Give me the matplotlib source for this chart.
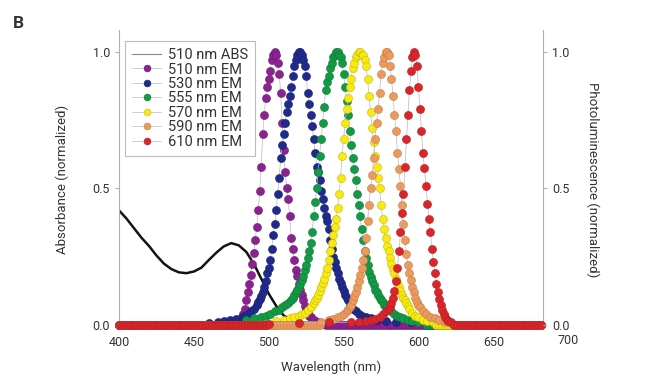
import matplotlib
matplotlib.use('Agg')
import matplotlib.pyplot as plt
import numpy as np

plt.rcParams['font.family'] = ['Roboto', 'DejaVu Sans']

# absorbance of the 510 nm sample
abs_wl = [400, 405, 410, 415, 420, 425, 430, 435, 440, 445, 450, 455, 460, 465, 470, 475,
          480, 485, 490, 495, 500, 505, 510, 515, 520, 530, 560, 683]
abs_val = [0.42, 0.39, 0.355, 0.32, 0.29, 0.255, 0.225, 0.205, 0.193, 0.19, 0.196, 0.21, 0.238,
           0.265, 0.288, 0.30, 0.292, 0.268, 0.225, 0.17, 0.115, 0.07, 0.035, 0.018, 0.01,
           0.005, 0.0, 0.0]

# emission spectra (peak regions), flat baseline elsewhere
em510_wl = [470, 475, 480, 481, 482, 483, 484, 485, 486, 487, 488, 489, 490, 491, 492, 493, 494,
            495, 496, 497, 498, 499, 500, 501, 502, 503, 504, 505, 506, 507, 508, 509, 510, 511,
            512, 513, 514, 515, 516, 517, 518, 519, 520, 521, 522, 523, 524, 525, 526, 527, 528,
            529, 530, 533, 536]
em510_val = [0.01, 0.012, 0.015, 0.02, 0.03, 0.04, 0.06, 0.09, 0.12, 0.15, 0.185, 0.225, 0.265,
             0.31, 0.36, 0.42, 0.49, 0.58, 0.70, 0.77, 0.83, 0.87, 0.90, 0.93, 0.97, 0.99, 1.0,
             0.99, 0.96, 0.92, 0.85, 0.74, 0.64, 0.56, 0.50, 0.46, 0.40, 0.32, 0.28, 0.24, 0.20,
             0.18, 0.15, 0.13, 0.11, 0.09, 0.07, 0.055, 0.045, 0.035, 0.028, 0.022, 0.017, 0.01,
             0.005]

em530_wl = [460, 466, 470, 474, 478, 482, 484, 486, 488, 490, 492, 493, 494, 495, 496, 497, 498,
            499, 500, 501, 502, 503, 504, 505, 506, 507, 508, 509, 510, 511, 512, 513, 514, 515,
            516, 517, 518, 519, 520, 521, 522, 523, 524, 525, 526, 527, 528, 529, 530, 531, 532,
            533, 534, 535, 536, 537, 538, 539, 540, 541, 542, 543, 544, 545, 546, 547, 548, 549,
            550, 551, 552, 553, 554, 555, 556, 558, 560, 562, 565, 568, 572, 578, 585, 595, 605]
em530_val = [0.008, 0.012, 0.015, 0.018, 0.022, 0.03, 0.035, 0.04, 0.05, 0.06, 0.075, 0.085,
             0.095, 0.105, 0.12, 0.14, 0.16, 0.19, 0.21, 0.24, 0.28, 0.33, 0.37, 0.42, 0.48,
             0.54, 0.61, 0.66, 0.70, 0.74, 0.78, 0.81, 0.84, 0.87, 0.91, 0.95, 0.97, 0.99, 1.0,
             1.0, 0.99, 0.97, 0.95, 0.91, 0.85, 0.81, 0.77, 0.73, 0.68, 0.63, 0.58, 0.56, 0.53,
             0.49, 0.46, 0.43, 0.40, 0.38, 0.35, 0.31, 0.28, 0.25, 0.23, 0.21, 0.19, 0.17, 0.155,
             0.14, 0.125, 0.11, 0.10, 0.09, 0.08, 0.07, 0.06, 0.05, 0.04, 0.035, 0.03, 0.025,
             0.02, 0.015, 0.012, 0.01, 0.008]

em555_wl = [485, 490, 495, 498, 501, 504, 507, 509, 511, 513, 515, 516, 517, 518, 519, 520, 521,
            522, 523, 524, 525, 526, 527, 528, 529, 530, 531, 532, 533, 534, 535, 536, 537, 538,
            539, 540, 541, 542, 543, 544, 545, 546, 547, 548, 549, 550, 551, 552, 553, 554, 555,
            556, 557, 558, 559, 560, 561, 562, 563, 564, 565, 566, 567, 568, 569, 570, 571, 572,
            573, 574, 575, 576, 577, 578, 579, 580, 582, 584, 586, 588, 590, 593, 596, 600, 605]
em555_val = [0.02, 0.025, 0.03, 0.035, 0.04, 0.05, 0.055, 0.065, 0.075, 0.08, 0.09, 0.10, 0.11,
             0.12, 0.13, 0.14, 0.15, 0.165, 0.18, 0.20, 0.22, 0.245, 0.27, 0.30, 0.34, 0.40,
             0.45, 0.50, 0.56, 0.62, 0.68, 0.74, 0.80, 0.86, 0.89, 0.91, 0.94, 0.96, 0.98, 0.99,
             1.0, 1.0, 0.99, 0.98, 0.96, 0.92, 0.87, 0.82, 0.77, 0.71, 0.66, 0.61, 0.57, 0.53,
             0.48, 0.44, 0.40, 0.35, 0.31, 0.27, 0.245, 0.22, 0.195, 0.175, 0.16, 0.145, 0.13,
             0.12, 0.11, 0.10, 0.09, 0.085, 0.075, 0.07, 0.065, 0.06, 0.05, 0.04, 0.035, 0.03,
             0.025, 0.02, 0.015, 0.01, 0.005]

em570_wl = [505, 510, 514, 517, 520, 522, 524, 526, 528, 530, 531, 532, 533, 534, 535, 536, 537,
            538, 539, 540, 541, 542, 543, 544, 545, 546, 547, 548, 549, 550, 551, 552, 553, 554,
            555, 556, 557, 558, 559, 560, 561, 562, 563, 564, 565, 566, 567, 568, 569, 570, 571,
            572, 573, 574, 575, 576, 577, 578, 579, 580, 581, 582, 583, 584, 585, 586, 587, 588,
            589, 590, 591, 592, 593, 594, 596, 598, 600, 603, 606, 610]
em570_val = [0.015, 0.02, 0.025, 0.03, 0.035, 0.04, 0.045, 0.055, 0.065, 0.08, 0.09, 0.10, 0.11,
             0.125, 0.14, 0.155, 0.17, 0.19, 0.21, 0.24, 0.27, 0.30, 0.33, 0.36, 0.39, 0.43,
             0.48, 0.54, 0.62, 0.68, 0.74, 0.79, 0.83, 0.87, 0.90, 0.94, 0.96, 0.98, 0.99, 1.0,
             1.0, 0.99, 0.99, 0.97, 0.95, 0.90, 0.84, 0.78, 0.72, 0.67, 0.62, 0.58, 0.54, 0.50,
             0.44, 0.39, 0.35, 0.32, 0.29, 0.27, 0.245, 0.225, 0.205, 0.19, 0.17, 0.155, 0.14,
             0.125, 0.11, 0.10, 0.09, 0.08, 0.07, 0.06, 0.045, 0.035, 0.03, 0.02, 0.015, 0.01]

em590_wl = [535, 540, 543, 546, 548, 550, 552, 553, 554, 555, 556, 557, 558, 559, 560, 561, 562,
            563, 564, 565, 566, 567, 568, 569, 570, 571, 572, 573, 574, 575, 576, 577, 578, 579,
            580, 581, 582, 583, 584, 585, 586, 587, 588, 589, 590, 591, 592, 593, 594, 595, 596,
            597, 598, 599, 600, 601, 603, 605, 608, 611, 614, 618, 622]
em590_val = [0.01, 0.018, 0.022, 0.028, 0.033, 0.04, 0.05, 0.058, 0.066, 0.075, 0.09, 0.105,
             0.12, 0.14, 0.16, 0.185, 0.21, 0.24, 0.27, 0.32, 0.38, 0.44, 0.50, 0.55, 0.61, 0.68,
             0.74, 0.79, 0.85, 0.92, 0.96, 0.98, 1.0, 1.0, 0.99, 0.95, 0.90, 0.84, 0.77, 0.71,
             0.63, 0.57, 0.51, 0.44, 0.37, 0.31, 0.26, 0.22, 0.19, 0.165, 0.14, 0.12, 0.10,
             0.085, 0.075, 0.065, 0.05, 0.042, 0.03, 0.025, 0.018, 0.012, 0.008]

em610_wl = [500, 520, 540, 555, 560, 565, 568, 571, 574, 576, 578, 580, 581, 582, 583, 584, 585,
            586, 587, 588, 589, 590, 591, 592, 593, 594, 595, 596, 597, 598, 599, 600, 601, 602,
            603, 604, 605, 606, 607, 608, 609, 610, 611, 612, 613, 614, 615, 616, 617, 618, 619,
            620, 622]
em610_val = [0.005, 0.008, 0.01, 0.01, 0.012, 0.015, 0.018, 0.022, 0.03, 0.04, 0.05, 0.06, 0.07,
             0.08, 0.10, 0.125, 0.16, 0.21, 0.27, 0.34, 0.41, 0.48, 0.58, 0.68, 0.77, 0.86, 0.93,
             0.98, 1.0, 0.99, 0.95, 0.87, 0.79, 0.71, 0.63, 0.575, 0.51, 0.445, 0.39, 0.34, 0.28,
             0.23, 0.19, 0.15, 0.12, 0.095, 0.075, 0.055, 0.04, 0.03, 0.02, 0.015, 0.01]

baseline_wl = np.arange(400, 684, 2)
baseline_val = 0.0

labels = ['510 nm EM', '530 nm EM', '555 nm EM', '570 nm EM', '590 nm EM', '610 nm EM']
face = ['#8a2390', '#1f2a8c', '#129a45', '#f7ea14', '#eb9a5e', '#d9262b']
edge = ['#6e1a73', '#18226e', '#0e7a36', '#c9b800', '#c97c45', '#b01d22']
series = [(em510_wl, em510_val), (em530_wl, em530_val), (em555_wl, em555_val),
          (em570_wl, em570_val), (em590_wl, em590_val), (em610_wl, em610_val)]

fig = plt.figure(figsize=(6.5, 3.85), dpi=100)
ax = fig.add_axes([0.183, 0.145, 0.652, 0.777])

ax.plot(abs_wl, abs_val, color='#1a1010', lw=1.8, label='510 nm ABS', zorder=2)

for (wl, val), lab, fc, ec in zip(series, labels, face, edge):
    wl = np.asarray(wl)
    val = np.asarray(val)
    outside = (baseline_wl < wl.min()) | (baseline_wl > wl.max())
    x = np.concatenate([baseline_wl[outside], wl])
    y = np.concatenate([np.full(outside.sum(), baseline_val), val])
    order = np.argsort(x)
    ax.plot(x[order], y[order], color='#b8b8c0', lw=0.5, marker='o', ms=5.8,
            mfc=fc, mec=ec, mew=0.4, label=lab, clip_on=False, zorder=3)

ax.set_xlim(400, 683)
ax.set_ylim(-0.015, 1.08)
ax.set_xticks([400, 450, 500, 550, 600, 650])
ax.set_yticks([0.0, 0.5, 1.0])
ax.set_yticklabels(['0.0', '0.5', '1.0'])
ax.text(700, -0.037, '700', transform=ax.get_xaxis_transform(), ha='center', va='center',
        fontsize=9, color='#333333')

for s in ['top', 'bottom']:
    ax.spines[s].set_visible(False)
for s in ['left', 'right']:
    ax.spines[s].set_color('#b0b0b0')
    ax.spines[s].set_linewidth(0.8)
ax.tick_params(axis='x', length=0, labelsize=9, colors='#333333', pad=5)
ax.tick_params(axis='y', length=3, color='#b0b0b0', labelsize=9, labelcolor='#333333')

ax2 = ax.twinx()
ax2.set_ylim(ax.get_ylim())
ax2.set_yticks([0.0, 0.5, 1.0])
ax2.set_yticklabels(['0.0', '0.5', '1.0'])
for s in ['top', 'bottom', 'left', 'right']:
    ax2.spines[s].set_visible(False)
ax2.tick_params(axis='y', length=3, color='#b0b0b0', labelsize=9, labelcolor='#333333')

ax.set_xlabel('Wavelength (nm)', fontsize=9.5, color='#333333', labelpad=8)
ax.set_ylabel('Absorbance (normalized)', fontsize=9.5, color='#333333', labelpad=17)
ax2.set_ylabel('Photoluminescence (normalized)', fontsize=9.5, color='#333333',
               rotation=270, labelpad=22)

leg = ax.legend(loc='upper left', bbox_to_anchor=(0.014, 0.964), borderaxespad=0,
                fontsize=10.5, labelspacing=0.03, handlelength=2.0, handletextpad=0.45,
                borderpad=0.5, fancybox=False, framealpha=1, edgecolor='#bbbbbb',
                markerscale=0.85)
leg.get_frame().set_linewidth(0.8)
leg.legend_handles[0].set_color('#888888')
leg.legend_handles[0].set_linewidth(0.8)
for t in leg.get_texts():
    t.set_color('#333333')

fig.text(0.02, 0.927, 'B', fontsize=12.5, fontweight='bold', color='#333333')

plt.savefig('out.png', dpi=100)
plt.close()
